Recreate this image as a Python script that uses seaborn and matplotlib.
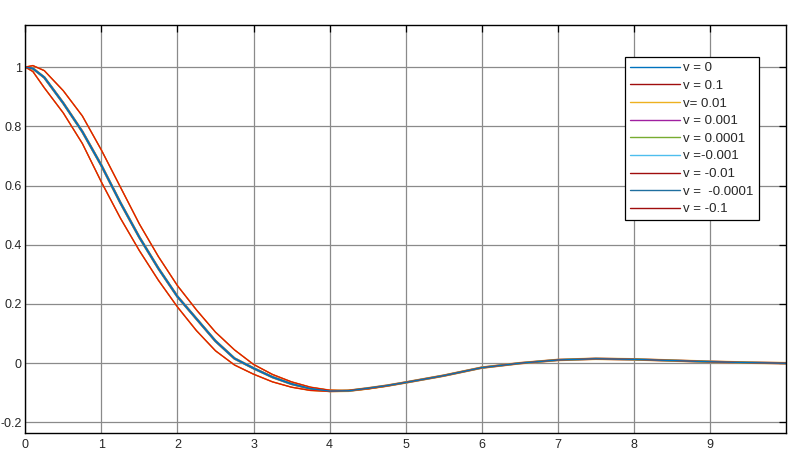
import numpy as np
import pandas as pd
import matplotlib
matplotlib.use('Agg')
import matplotlib.pyplot as plt
from matplotlib.ticker import FuncFormatter
import seaborn as sns

# values
x_vals = [0, 0.1, 0.25, 0.5, 0.75, 1.0, 1.25, 1.5, 1.75, 2.0, 2.25, 2.5, 2.75,
          3.0, 3.25, 3.5, 3.75, 4.0, 4.25, 4.5, 4.75, 5.0, 5.5, 6.0, 6.5,
          7.0, 7.5, 8.0, 8.5, 9.0, 9.5, 10.0]

# v close to 0 (all small v curves sit on top of each other)
y_small_v = [1.0, 0.995, 0.965, 0.878, 0.782, 0.668, 0.542, 0.425, 0.32, 0.225,
             0.15, 0.075, 0.016, -0.017, -0.047, -0.07, -0.086, -0.094, -0.093,
             -0.085, -0.076, -0.065, -0.042, -0.015, 0.0, 0.011, 0.015, 0.013,
             0.009, 0.005, 0.002, 0.0]
# v = 0.1 (outer curve, right)
y_v_pos = [1.0, 1.005, 0.988, 0.92, 0.835, 0.72, 0.595, 0.47, 0.36, 0.262,
           0.18, 0.105, 0.045, -0.004, -0.038, -0.063, -0.081, -0.091, -0.093,
           -0.087, -0.077, -0.065, -0.042, -0.015, 0.0, 0.011, 0.015, 0.013,
           0.009, 0.005, 0.002, 0.0]
# v = -0.1 (outer curve, left)
y_v_neg = [1.0, 0.985, 0.93, 0.845, 0.742, 0.612, 0.49, 0.38, 0.28, 0.19,
           0.11, 0.042, -0.006, -0.037, -0.063, -0.081, -0.092, -0.095, -0.092,
           -0.085, -0.076, -0.065, -0.042, -0.015, 0.0, 0.011, 0.015, 0.013,
           0.009, 0.005, 0.002, 0.0]

labels = ['v = 0', 'v = 0.1', 'v= 0.01', 'v = 0.001', 'v = 0.0001',
          'v =-0.001', 'v = -0.01', 'v =  -0.0001', 'v = -0.1']
series = [y_small_v, y_v_pos, y_small_v, y_small_v, y_small_v,
          y_small_v, y_small_v, y_small_v, y_v_neg]
line_colors = ['#0072BD', '#A00D0D', '#EDB120', '#A020A0', '#77AC30',
               '#4DBEEE', '#A00D0D', '#1F6F9F', '#A00D0D']
line_widths = [0.9, 0.8, 1.9, 1.6, 1.4, 1.2, 0.8, 1.0, 0.8]

x_ticks = [0, 1, 2, 3, 4, 5, 6, 7, 8, 9]
y_ticks = [-0.2, 0, 0.2, 0.4, 0.6, 0.8, 1.0]

sns.set_style('white')
plt.rcParams['font.family'] = ['Liberation Sans', 'DejaVu Sans']
plt.rcParams['axes.unicode_minus'] = False

fig = plt.figure(figsize=(7.9, 4.51), dpi=100)
ax = fig.add_axes([0.032, 0.041, 0.963, 0.9035])

for vals, lab, col, lw in zip(series, labels, line_colors, line_widths):
    sns.lineplot(x=x_vals, y=vals, ax=ax, color=col, lw=lw, label=lab,
                 sort=False, estimator=None)

# outer curves show up red/orange in the picture
for vals in [y_v_pos, y_v_neg]:
    sns.lineplot(x=x_vals, y=vals, ax=ax, color='#E8820C', lw=1.1,
                 sort=False, estimator=None, legend=False)
    sns.lineplot(x=x_vals, y=vals, ax=ax, color='#E00000', lw=0.6,
                 sort=False, estimator=None, legend=False)
sns.lineplot(x=x_vals, y=y_small_v, ax=ax, color='#0072BD', lw=0.9,
             sort=False, estimator=None, legend=False)

ax.set_xlim(0, 10)
ax.set_ylim(-0.234, 1.142)
ax.set_xticks(x_ticks)
ax.set_yticks(y_ticks)
ax.yaxis.set_major_formatter(FuncFormatter(lambda v, p: f'{v:g}'))
ax.set_xlabel('')
ax.set_ylabel('')

ax.grid(True, color='#8a8a8a', lw=0.9)
ax.set_axisbelow(True)
ax.tick_params(direction='in', length=5, width=0.9, top=True, right=True,
               labelsize=9, labelcolor='#262626', color='black')
ax.tick_params(axis='x', pad=5)
ax.tick_params(axis='y', pad=2.6)
for sp in ax.spines.values():
    sp.set_color('black')
    sp.set_linewidth(1.0)

leg = ax.legend(loc='upper left', bbox_to_anchor=(0.788, 0.9215),
                fontsize=9.5, frameon=True, fancybox=False, framealpha=1,
                edgecolor='black', handlelength=3.8, handletextpad=0.25,
                borderpad=0.38, labelspacing=0.41, borderaxespad=0)
leg.get_frame().set_linewidth(0.9)
for h, c in zip(leg.get_lines(), line_colors):
    h.set_linewidth(1.0)
    h.set_color(c)

fig.savefig('out.png', dpi=100)
